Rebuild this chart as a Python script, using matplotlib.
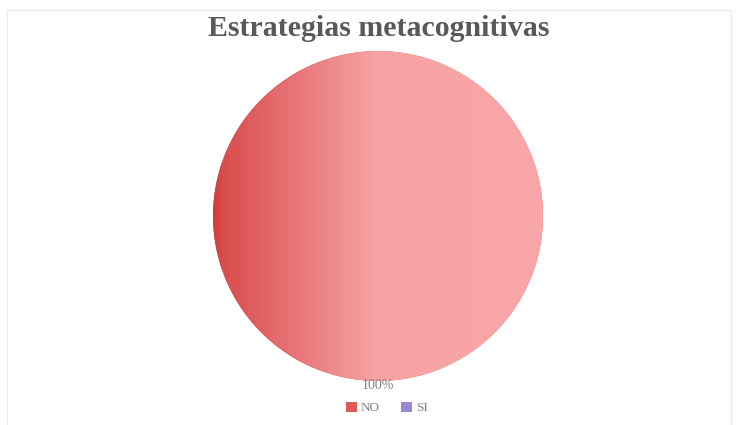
import numpy as np
import matplotlib.pyplot as plt
from matplotlib.colors import LinearSegmentedColormap
from matplotlib.patches import Patch, Rectangle

categories = ["NO", "SI"]
values = [100, 0]
colors = ["#e05a5a", "#9b86d4"]
title = "Estrategias metacognitivas"

plt.rcParams['font.family'] = ['Liberation Serif', 'DejaVu Serif']

fig = plt.figure(figsize=(7.38, 4.25), dpi=100)
fig.patch.set_facecolor("white")
# faint chart-area border
fig.patches.append(Rectangle((7/738, -0.01), (731-7)/738, 1 - 10/425 + 0.01,
                             transform=fig.transFigure, fill=False,
                             edgecolor="#ececec", linewidth=1))

R = 165 / 100  # inches
cx, cy = 378 / 738, 1 - 216 / 425
w = 2 * R / 7.38
h = 2 * R / 4.25
ax = fig.add_axes([cx - w / 2, cy - h / 2, w, h])

def pct(p):
    return f"{p:.0f}%" if p > 0 else ""

wedges, texts, autotexts = ax.pie(values, colors=colors, startangle=90,
                                  counterclock=False, radius=1.0,
                                  autopct=pct, pctdistance=1.025,
                                  textprops=dict(color="#7f7f7f", fontsize=10))
ax.set_xlim(-1, 1)
ax.set_ylim(-1, 1)
ax.set_aspect("equal")
ax.axis("off")
for t in autotexts:
    t.set_va("center")
    t.set_clip_on(False)

# horizontal gradient fill clipped to the main wedge
cmap = LinearSegmentedColormap.from_list(
    "g", [(0.0, "#d33c3b"), (0.03, "#da4d4d"), (0.49, "#f7a2a4"), (1.0, "#f9a7a8")])
grad = np.linspace(0, 1, 512).reshape(1, -1)
im = ax.imshow(grad, extent=[-1, 1, -1, 1], cmap=cmap, aspect="auto", zorder=2)
im.set_clip_path(wedges[0])
for t in autotexts:
    t.set_zorder(5)

fig.text(379 / 738, 1 - 29 / 425, title, ha="center", va="center",
         fontsize=21.5, fontweight="bold", color="#595959")

handles = [Patch(facecolor=c, edgecolor="none") for c in colors]
fig.legend(handles, categories, loc="center", bbox_to_anchor=(387 / 738, 1 - 408 / 425),
           ncol=2, frameon=False, fontsize=9.5, handlelength=0.8, handleheight=0.8,
           handletextpad=0.3, columnspacing=1.6, labelcolor="#7f7f7f")

fig.savefig("out.png", dpi=100, facecolor="white")
